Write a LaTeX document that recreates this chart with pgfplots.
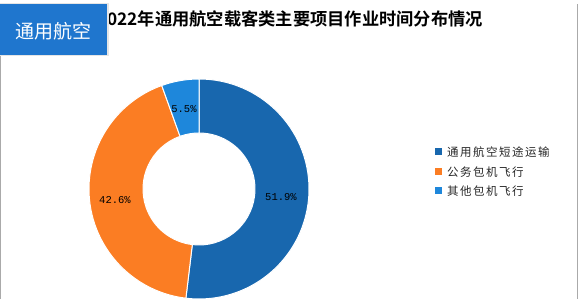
\documentclass[border=0pt]{standalone}
\usepackage{pgfplots}
\pgfplotsset{compat=1.18}
\usepackage{fontspec}
\setmainfont{Noto Sans CJK SC}
\newfontfamily\cjk{Noto Sans CJK SC}
\newfontfamily\cjkb{Noto Sans CJK SC Bold}
\newfontfamily\cjkl[LetterSpace=13]{Noto Sans CJK SC}
\newfontfamily\lab{Liberation Mono}
\definecolor{cA}{RGB}{24,103,174}
\definecolor{cB}{RGB}{251,125,35}
\definecolor{cC}{RGB}{30,135,219}
\definecolor{badge}{RGB}{31,118,206}
\definecolor{border}{RGB}{170,170,170}
\begin{document}
\begin{tikzpicture}
% values (percent)
\pgfmathsetmacro\va{51.9}
\pgfmathsetmacro\vb{42.6}
\pgfmathsetmacro\vc{5.5}
\pgfmathsetmacro\aa{90}
\pgfmathsetmacro\ab{\aa-\va*3.6}
\pgfmathsetmacro\ac{\ab-\vb*3.6}
\pgfmathsetmacro\ad{\ac-\vc*3.6}
\begin{axis}[
  scale only axis, width=582pt, height=299pt,
  xmin=0, xmax=582, ymin=0, ymax=299,
  hide axis, clip=true]
\addplot[draw=none] coordinates {(0,0) (582,299)};
% borders
\draw[border, line width=1pt] (axis cs:0.7,0) -- (axis cs:0.7,295);
\draw[border, line width=1pt] (axis cs:577,0) -- (axis cs:577,295);
% donut
\fill[cA, draw=white, line width=1pt] (axis cs:199,110) ++(\aa:110pt) arc[start angle=\aa, end angle=\ab, radius=110pt] -- ++(\ab:-54pt) arc[start angle=\ab, end angle=\aa, radius=56pt] -- cycle;
\fill[cB, draw=white, line width=1pt] (axis cs:199,110) ++(\ab:110pt) arc[start angle=\ab, end angle=\ac, radius=110pt] -- ++(\ac:-54pt) arc[start angle=\ac, end angle=\ab, radius=56pt] -- cycle;
\fill[cC, draw=white, line width=1pt] (axis cs:199,110) ++(\ac:110pt) arc[start angle=\ac, end angle=\ad, radius=110pt] -- ++(\ad:-54pt) arc[start angle=\ad, end angle=\ac, radius=56pt] -- cycle;
% slice labels
\node[font=\lab\fontsize{10.5}{12}\selectfont] at (axis cs:281,102) {51.9\%};
\node[font=\lab\fontsize{10.5}{12}\selectfont] at (axis cs:115,99) {42.6\%};
\node[font=\lab\fontsize{10.5}{12}\selectfont] at (axis cs:184,190) {5.5\%};
% legend
\fill[cA] (axis cs:435,143.5) rectangle (axis cs:442,150.5);
\fill[cB] (axis cs:435,123.5) rectangle (axis cs:442,130.5);
\fill[cC] (axis cs:435,104.5) rectangle (axis cs:442,111.5);
\node[anchor=west, inner sep=0pt, font=\cjkl\fontsize{11.5}{13}\selectfont, text=black!85] at (axis cs:447,147) {通用航空短途运输};
\node[anchor=west, inner sep=0pt, font=\cjkl\fontsize{11.5}{13}\selectfont, text=black!85] at (axis cs:447,127) {公务包机飞行};
\node[anchor=west, inner sep=0pt, font=\cjkl\fontsize{11.5}{13}\selectfont, text=black!85] at (axis cs:447,108) {其他包机飞行};
% title
\node[anchor=east, inner sep=0pt, font=\cjkb\fontsize{17.25}{20}\selectfont, text=black] at (axis cs:483,280) {2022年通用航空载客类主要项目作业时间分布情况};
% badge
\fill[black!10] (axis cs:0,243) rectangle (axis cs:109,296);
\fill[badge] (axis cs:0,244) rectangle (axis cs:107,295);
\node[font=\cjk\fontsize{19}{22}\selectfont, text=white] at (axis cs:54,268) {通用航空};
\end{axis}
\end{tikzpicture}
\end{document}
